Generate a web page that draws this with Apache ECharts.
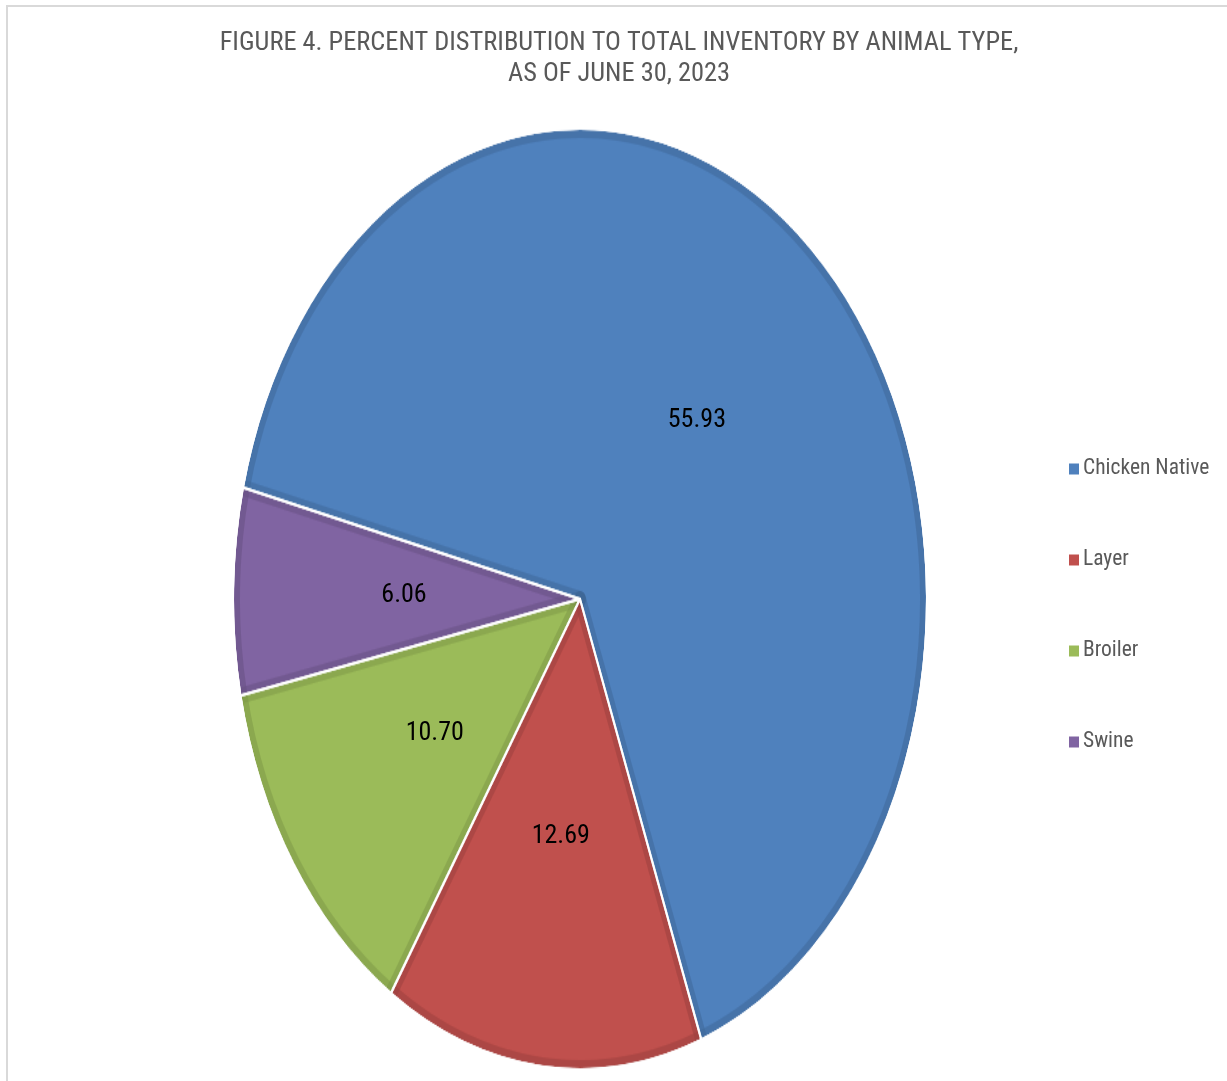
<!DOCTYPE html>
<html>
<head>
<meta charset="utf-8">
<title>Figure 4</title>
<script src="https://cdn.jsdelivr.net/npm/echarts@6/dist/echarts.min.js"></script>
<style>
  html, body { margin: 0; padding: 0; background: #fff; }
  #wrap { position: relative; width: 1227px; height: 1081px; overflow: hidden; }
  #pieBody, #pieText { position: absolute; left: 0; top: 0; width: 1227px; height: 1081px; }
  /* the reference pie is an ellipse, so the slice layer is stretched vertically */
  #pieBody { transform-origin: 580px 599px; transform: scaleY(1.356); }
</style>
</head>
<body>
<div id="wrap">
  <div id="pieBody"></div>
  <div id="pieText"></div>
</div>
<script>
var animalTypes = ["Chicken Native", "Layer", "Broiler", "Swine"];
var percents = [55.93, 12.69, 10.70, 6.06];

var CX = 580, CY = 599, R = 346, SY = 1.356, START = 166.3;
var FONT = "Roboto";
var palette = ["#4f81bd", "#c0504d", "#9bbb59", "#8064a2"];

var pieData = animalTypes.map(function (name, i) {
  return { name: name, value: percents[i] };
});

function layer(extra) {
  return Object.assign({
    type: "pie",
    center: [CX, CY],
    startAngle: START,
    clockwise: true,
    silent: true,
    animation: false,
    label: { show: false },
    labelLine: { show: false },
    emphasis: { disabled: true },
    data: pieData
  }, extra);
}

var bodyChart = echarts.init(document.getElementById("pieBody"));
bodyChart.setOption({
  color: palette,
  series: [
    layer({ radius: R, z: 1 }),
    // darker inner rim on every slice edge
    layer({ radius: R, z: 2, itemStyle: { color: "rgba(0,0,0,0)", borderColor: "rgba(0,0,0,0.05)", borderWidth: 12 } }),
    layer({ radius: [R - 6, R], z: 3, data: [{ value: 1 }], itemStyle: { color: "rgba(0,0,0,0.05)" } }),
    // hide the rim that spills outside the pie
    layer({ radius: [R, R + 20], z: 4, data: [{ value: 1 }], itemStyle: { color: "#fff" } }),
    // thin white lines between slices
    layer({ radius: R + 1, z: 5, itemStyle: { color: "rgba(0,0,0,0)", borderColor: "#fff", borderWidth: 2 } })
  ]
});

var textChart = echarts.init(document.getElementById("pieText"));
textChart.setOption({
  title: {
    text: "FIGURE 4. PERCENT DISTRIBUTION TO TOTAL INVENTORY BY ANIMAL TYPE,\nAS OF JUNE 30, 2023",
    left: 619,
    top: 28,
    padding: 0,
    textAlign: "center",
    textStyle: { fontFamily: FONT, fontSize: 26.4, fontWeight: "condensed", color: "#595959", lineHeight: 31 }
  },
  legend: {
    orient: "vertical",
    left: 1069,
    top: 458,
    padding: 0,
    icon: "rect",
    itemWidth: 10,
    itemHeight: 11,
    itemGap: 69,
    selectedMode: false,
    textStyle: { fontFamily: FONT, fontSize: 21.5, fontWeight: "condensed", color: "#595959", padding: [0, 0, 0, -1] },
    data: animalTypes.map(function (name, i) {
      return { name: name, itemStyle: { color: palette[i] } };
    })
  },
  graphic: [{
    type: "rect",
    silent: true,
    shape: { x: 7, y: 6, width: 1400, height: 1200 },
    style: { fill: "none", stroke: "#d9d9d9", lineWidth: 2 }
  }],
  series: [{
    type: "pie",
    center: [CX, CY],
    radius: R,
    startAngle: START,
    clockwise: true,
    animation: false,
    itemStyle: { color: "rgba(0,0,0,0)" },
    emphasis: { disabled: true },
    label: {
      show: true,
      position: "inside",
      fontFamily: FONT,
      fontSize: 26,
      fontWeight: "condensed",
      color: "#000",
      formatter: function (p) { return p.value.toFixed(2); }
    },
    labelLine: { show: false },
    // follow the vertical stretch of the slice layer
    labelLayout: function (p) {
      var c = p.labelRect.y + p.labelRect.height / 2;
      return { dy: (c - CY) * (SY - 1) };
    },
    data: pieData
  }]
});
</script>
</body>
</html>
